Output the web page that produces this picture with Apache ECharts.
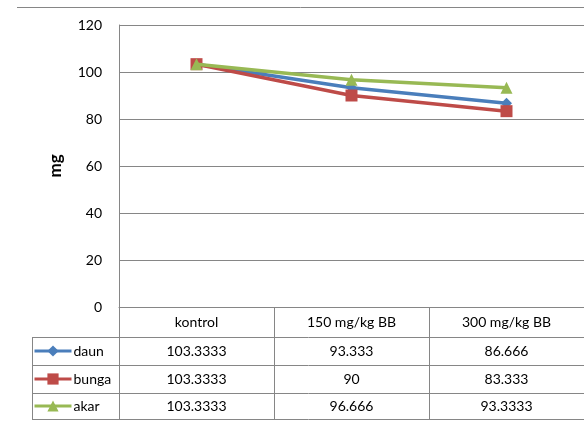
<!DOCTYPE html>
<html><head><meta charset="utf-8">
<script src="https://cdn.jsdelivr.net/npm/echarts@6/dist/echarts.min.js"></script>
<style>html,body{margin:0;padding:0;background:#fff}#c{width:584px;height:423px}</style>
</head><body><div id="c"></div>
<script>
const categories = ['kontrol', '150 mg/kg BB', '300 mg/kg BB'];
const seriesNames = ['daun', 'bunga', 'akar'];
const daun = [103.3333, 93.333, 86.666];
const bunga = [103.3333, 90, 83.333];
const akar = [103.3333, 96.666, 93.3333];
const yTicks = [0, 20, 40, 60, 80, 100, 120];
const colors = ['#4a7ebb', '#be4b48', '#98b954'];
const symbols = ['diamond', 'rect', 'triangle'];
const symbolSizes = [11, 12, 12];

const FONT = 'Lato';
const seriesData = [daun, bunga, akar];
const rowY = [307, 337, 365, 393, 419];
const chart = echarts.init(document.getElementById('c'), null, {renderer: 'canvas'});

const option = {
  animation: false,
  color: colors,
  textStyle: {fontFamily: FONT},
  grid: {left: 119, top: 25, right: -3, bottom: 116, containLabel: false},
  xAxis: {
    type: 'category', data: categories, boundaryGap: true,
    axisLine: {lineStyle: {color: '#868686', width: 1}},
    axisTick: {show: false},
    axisLabel: {color: '#000', fontSize: 14, margin: 8, fontFamily: FONT}
  },
  yAxis: {
    type: 'value', min: yTicks[0], max: yTicks[yTicks.length - 1], interval: 20,
    name: 'mg', nameLocation: 'middle', nameGap: 55, nameRotate: 90,
    nameTextStyle: {fontSize: 17, fontWeight: 'bold', color: '#000', fontFamily: FONT},
    axisLine: {show: true, lineStyle: {color: '#868686', width: 1}},
    axisTick: {show: false},
    axisLabel: {color: '#000', fontSize: 14, margin: 17, fontFamily: FONT},
    splitLine: {lineStyle: {color: '#868686', width: 1}}
  },
  legend: seriesNames.map((n, i) => ({
    orient: 'horizontal', left: 33, top: (rowY[i + 1] + rowY[i + 2]) / 2 - 8,
    padding: 0, itemWidth: 37, itemHeight: 14,
    lineStyle: {width: 3},
    textStyle: {fontSize: 14, color: '#000', fontFamily: FONT, lineHeight: 16, padding: [0, 0, 0, -3]},
    data: [n]
  })),
  series: seriesNames.map((n, i) => ({
    name: n, type: 'line', data: seriesData[i],
    symbol: symbols[i], symbolSize: symbolSizes[i],
    lineStyle: {width: 3.5, color: colors[i]},
    itemStyle: {color: colors[i]},
    z: 2 + (i === 2 ? 1 : 0)
  }))
};
chart.setOption(option);

// Data table drawn below the plot, aligned with the category axis bands
const c0 = chart.convertToPixel({xAxisIndex: 0}, 0);
const c1 = chart.convertToPixel({xAxisIndex: 0}, 1);
const band = c1 - c0;
const axisX = c0 - band / 2;
const lineStyle = {stroke: '#868686', lineWidth: 1};
const g = [];
g.push({type: 'line', shape: {x1: 17, y1: 7.5, x2: 584, y2: 7.5}, style: lineStyle, silent: true});
g.push({type: 'line', shape: {x1: Math.round(axisX) + 0.5, y1: rowY[0], x2: Math.round(axisX) + 0.5, y2: rowY[4]}, style: lineStyle});
g.push({type: 'line', shape: {x1: 32.5, y1: rowY[1], x2: 32.5, y2: rowY[4]}, style: lineStyle});
for (let r = 1; r < rowY.length; r++) {
  g.push({type: 'line', shape: {x1: 32, y1: rowY[r] + 0.5, x2: 590, y2: rowY[r] + 0.5}, style: lineStyle});
}
categories.forEach((cat, k) => {
  const cx = chart.convertToPixel({xAxisIndex: 0}, k);
  const bx = Math.round(cx + band / 2) + 0.5;
  g.push({type: 'line', shape: {x1: bx, y1: rowY[0], x2: bx, y2: rowY[4]}, style: lineStyle});
  seriesData.forEach((arr, s) => {
    g.push({type: 'text', x: cx, y: (rowY[s + 1] + rowY[s + 2]) / 2,
      style: {text: String(arr[k]), fill: '#000', font: '14px ' + FONT, align: 'center', verticalAlign: 'middle'}});
  });
});
chart.setOption({graphic: g});
</script></body></html>
